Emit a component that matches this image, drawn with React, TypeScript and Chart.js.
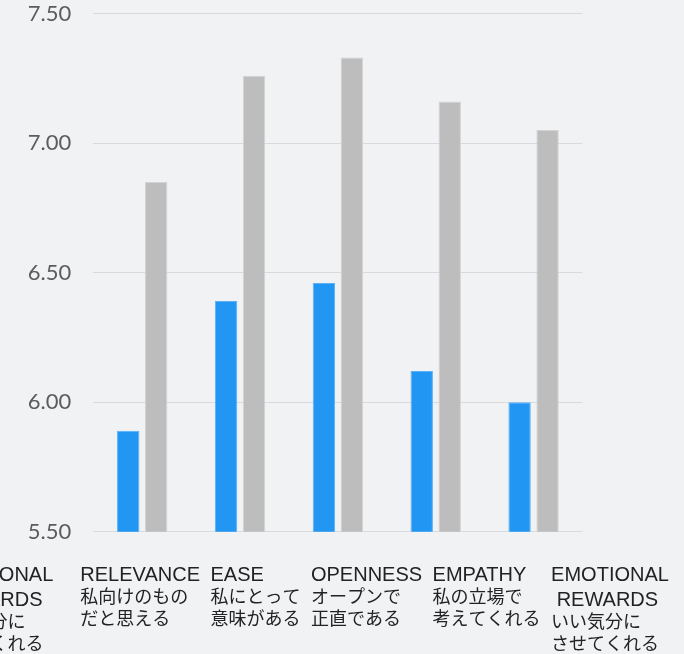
import React, { useEffect, useRef } from "react";
import { Chart, registerables } from "chart.js";

Chart.register(...registerables);

// Category labels: English heading line(s) followed by the Japanese description
const categories: string[][] = [
  ["RELEVANCE", "私向けのもの", "だと思える"],
  ["EASE", "私にとって", "意味がある"],
  ["OPENNESS", "オープンで", "正直である"],
  ["EMPATHY", "私の立場で", "考えてくれる"],
  ["EMOTIONAL", " REWARDS", "いい気分に", "させてくれる"],
];

const scoreSeriesA: number[] = [5.89, 6.39, 6.46, 6.12, 6.0];
const scoreSeriesB: number[] = [6.85, 7.26, 7.33, 7.16, 7.05];

const yTickValues: number[] = [5.5, 6.0, 6.5, 7.0, 7.5];

const LATIN_FONT = '20px "Liberation Sans", Arial, sans-serif';
const CJK_FONT = '18px "Noto Sans CJK JP", sans-serif';
const isLatin = (s: string) => /^[\x00-\x7F]*$/.test(s);

// Draws the multi-line category labels as a left-aligned strip under the plot.
const labelStripPlugin = {
  id: "labelStrip",
  afterDraw(chart: any) {
    const ctx: CanvasRenderingContext2D = chart.ctx;
    const area = chart.chartArea;
    const labels = chart.data.labels as string[][];

    const widthOf = (lines: string[]) =>
      Math.max(
        ...lines.map((l) => {
          ctx.font = isLatin(l) ? LATIN_FONT : CJK_FONT;
          return ctx.measureText(l).width;
        })
      );

    const drawBlock = (lines: string[], x: number) => {
      let y = area.bottom + 49.5;
      lines.forEach((line, i) => {
        if (i > 0) y += isLatin(line) ? 24.5 : 22;
        ctx.font = isLatin(line) ? LATIN_FONT : CJK_FONT;
        ctx.fillText(line, x, y);
      });
    };

    ctx.save();
    ctx.fillStyle = "#222222";
    ctx.textAlign = "left";
    ctx.textBaseline = "alphabetic";

    const startX = area.left - 13;
    let x = startX;
    labels.forEach((lines) => {
      drawBlock(lines, x);
      x += widthOf(lines) + 10.5;
    });

    // the strip wraps around: the last category peeks in from the left edge
    const last = labels[labels.length - 1];
    drawBlock(last, startX - 27 - widthOf(last));
    ctx.restore();
  },
};

export default function App() {
  const canvasRef = useRef<HTMLCanvasElement | null>(null);

  useEffect(() => {
    if (!canvasRef.current) return;
    const chart = new Chart(canvasRef.current, {
      type: "bar",
      data: {
        labels: categories,
        datasets: [
          {
            data: scoreSeriesA,
            backgroundColor: "#2196f3",
            borderColor: "#5cb0f5",
            borderWidth: 1,
          },
          {
            data: scoreSeriesB,
            backgroundColor: "#bdbdbd",
            borderColor: "#d3d3d3",
            borderWidth: 1,
          },
        ],
      },
      options: {
        animation: false,
        responsive: true,
        maintainAspectRatio: false,
        layout: { padding: { top: 13.5, right: 101.5, bottom: 122.3, left: 0 } },
        datasets: {
          bar: { categoryPercentage: 0.572, barPercentage: 0.8 },
        },
        plugins: {
          legend: { display: false },
          tooltip: { enabled: false },
        },
        scales: {
          x: {
            display: false,
          },
          y: {
            min: yTickValues[0],
            max: yTickValues[yTickValues.length - 1],
            afterBuildTicks: (scale: any) => {
              scale.ticks = yTickValues.map((v) => ({ value: v }));
            },
            afterFit: (scale: any) => {
              scale.width = 93.3;
              scale.paddingTop = 0;
              scale.paddingBottom = 0;
            },
            border: { display: false },
            grid: { color: "#d9dadd", lineWidth: 1, drawTicks: false },
            ticks: {
              padding: 22,
              color: "#5c5c5c",
              font: { family: "Lato", size: 22 },
              callback: (v: any) => Number(v).toFixed(2),
            },
          },
        },
      },
      plugins: [labelStripPlugin],
    });
    return () => chart.destroy();
  }, []);

  return (
    <div
      style={{
        position: "fixed",
        left: 0,
        top: 0,
        width: 684,
        height: 654,
        background: "#f1f2f4",
      }}
    >
      <canvas ref={canvasRef} />
    </div>
  );
}
